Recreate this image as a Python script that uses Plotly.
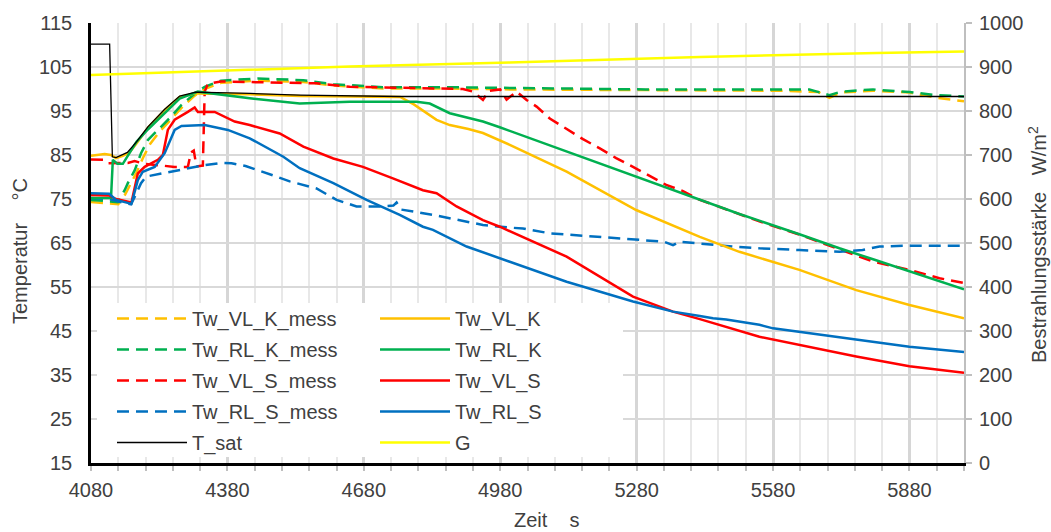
import plotly.graph_objects as go

# ---------------- data (time in s, temperature in °C, G in W/m²) ----------------
t_vl_k_mess = [4080, 4115, 4140, 4155, 4165, 4180, 4195, 4210, 4230, 4256, 4280, 4308, 4330, 4366, 4447, 4547, 4613, 4722, 4869, 5001, 5300, 5600, 5680, 5704, 5730, 5800, 5880, 5940, 6000]
v_vl_k_mess = [74.3, 74.0, 73.8, 76.0, 78.0, 81.0, 84.5, 87.5, 90.2, 93.0, 95.8, 98.5, 100.0, 101.4, 101.9, 101.6, 100.8, 100.1, 100.1, 99.9, 99.7, 99.6, 99.3, 98.0, 99.2, 99.6, 99.2, 98.0, 97.2]

t_rl_k_mess = [4080, 4139, 4154, 4161, 4176, 4190, 4205, 4227, 4256, 4279, 4308, 4330, 4366, 4447, 4547, 4613, 4722, 4869, 5001, 5300, 5660, 5704, 5730, 5800, 5880, 5940, 6000]
v_rl_k_mess = [74.8, 74.3, 77.0, 78.6, 81.5, 85.4, 88.4, 90.7, 93.7, 96.4, 98.9, 100.5, 101.9, 102.4, 102.0, 101.1, 100.4, 100.4, 100.2, 99.9, 99.9, 98.6, 99.4, 99.9, 99.3, 98.6, 98.3]

t_vl_s_mess = [4080, 4110, 4118, 4161, 4176, 4198, 4264, 4293, 4300, 4306, 4312, 4326, 4330, 4337, 4366, 4447, 4576, 4649, 4796, 4898, 4920, 4942, 4955, 4980, 4994, 5016, 5038, 5060, 5089, 5126, 5162, 5199, 5235, 5272, 5309, 5345, 5382, 5419, 5492, 5550, 5638, 5726, 5799, 5880, 5946, 6000]
v_vl_s_mess = [84.0, 83.9, 83.1, 83.2, 83.6, 83.0, 82.3, 82.3, 85.6, 86.0, 82.4, 82.6, 99.4, 101.2, 101.7, 101.6, 101.3, 100.5, 100.2, 100.0, 99.4, 97.5, 99.6, 99.9, 97.6, 99.4, 97.5, 96.0, 93.3, 91.0, 88.6, 86.5, 84.3, 82.3, 80.3, 78.2, 76.8, 74.8, 72.1, 69.9, 66.9, 63.6, 60.8, 58.9, 57.0, 55.9]

t_rl_s_mess = [4080, 4120, 4150, 4168, 4180, 4190, 4201, 4234, 4279, 4330, 4366, 4389, 4420, 4447, 4488, 4517, 4576, 4620, 4664, 4722, 4745, 4752, 4762, 4832, 4906, 4942, 5001, 5030, 5089, 5235, 5340, 5360, 5374, 5492, 5550, 5638, 5726, 5777, 5814, 5880, 6000]
v_rl_s_mess = [75.2, 75.0, 74.2, 73.8, 76.3, 78.6, 80.1, 80.8, 81.6, 82.7, 83.2, 83.1, 82.5, 81.6, 80.1, 79.0, 77.4, 74.8, 73.3, 73.3, 73.5, 74.2, 72.6, 71.4, 69.9, 69.1, 68.5, 68.3, 67.2, 66.1, 65.3, 64.5, 65.3, 64.2, 63.8, 63.4, 63.0, 63.4, 64.2, 64.4, 64.4]

t_sat_t = [4080, 4121, 4127, 4135, 4160, 4180, 4205, 4242, 4275, 4310, 4430, 4540, 4760, 6000]
t_sat_v = [110.2, 110.2, 84.6, 84.4, 85.6, 88.0, 91.4, 95.4, 98.4, 99.3, 99.0, 98.6, 98.3, 98.3]

t_vl_k = [4080, 4110, 4124, 4135, 4150, 4165, 4180, 4205, 4242, 4275, 4310, 4430, 4540, 4700, 4760, 4790, 4815, 4840, 4869, 4910, 4942, 4979, 5001, 5126, 5279, 5419, 5506, 5638, 5763, 5880, 6000]
v_vl_k = [84.8, 85.2, 85.0, 84.3, 84.8, 85.6, 87.6, 91.2, 95.2, 98.2, 99.0, 98.8, 98.4, 98.3, 98.2, 96.5, 94.8, 93.0, 91.8, 90.9, 90.0, 88.3, 87.3, 81.2, 72.5, 66.4, 63.0, 58.9, 54.3, 50.9, 47.9]

t_rl_k = [4080, 4124, 4128, 4138, 4150, 4160, 4180, 4205, 4242, 4275, 4315, 4350, 4429, 4539, 4649, 4796, 4825, 4869, 4942, 4979, 5126, 5279, 5419, 5506, 5638, 5726, 5800, 5880, 6000]
v_rl_k = [75.2, 75.2, 83.9, 83.0, 83.0, 84.6, 88.0, 90.8, 94.5, 97.8, 99.4, 98.9, 97.9, 96.7, 97.1, 97.1, 96.7, 94.5, 92.6, 91.3, 85.8, 80.1, 74.8, 71.6, 67.0, 63.8, 61.3, 58.6, 54.5]

t_vl_s = [4080, 4120, 4135, 4150, 4169, 4183, 4198, 4227, 4238, 4249, 4264, 4293, 4308, 4315, 4352, 4396, 4429, 4495, 4547, 4613, 4678, 4744, 4810, 4840, 4884, 4942, 4979, 5126, 5272, 5360, 5419, 5550, 5638, 5763, 5880, 6000]
v_vl_s = [75.9, 75.8, 75.0, 74.6, 74.2, 80.8, 82.3, 83.9, 85.0, 90.7, 93.0, 94.8, 95.8, 94.8, 94.8, 92.6, 91.8, 89.9, 86.9, 84.2, 82.3, 79.7, 77.0, 76.3, 73.3, 70.2, 68.7, 61.9, 52.8, 49.4, 47.7, 43.7, 41.8, 39.2, 37.0, 35.5]

t_rl_s = [4080, 4120, 4135, 4169, 4183, 4194, 4220, 4242, 4264, 4279, 4330, 4381, 4429, 4503, 4539, 4613, 4686, 4759, 4810, 4832, 4906, 4979, 5126, 5272, 5360, 5419, 5448, 5477, 5506, 5550, 5580, 5638, 5763, 5880, 6000]
v_rl_s = [76.3, 76.2, 74.8, 73.9, 79.3, 81.2, 82.3, 85.4, 90.7, 91.6, 91.8, 90.7, 88.8, 84.6, 82.0, 78.6, 74.8, 71.4, 68.7, 68.0, 64.2, 61.5, 56.2, 51.7, 49.4, 48.4, 47.9, 47.6, 47.1, 46.4, 45.6, 44.8, 43.0, 41.4, 40.2]

g_t = [4080, 4447, 4649, 5001, 5419, 5808, 6000]
g_v = [882, 895, 901, 910, 923, 932, 935]

x_ticks = [4080, 4380, 4680, 4980, 5280, 5580, 5880]

# ---------------- styling ----------------
FONT = "Liberation Sans, Arial, sans-serif"
TXT = "#404040"
ORANGE, GREEN, RED, BLUE, YELLOW = "#FFC000", "#00B050", "#FF0000", "#0070C0", "#FFFF00"
DASH = "12px,7px"
LW = 2.5

fig = go.Figure()

def add(t, v, name, color, dash=None, width=LW, legend="legend", yaxis="y"):
    fig.add_trace(go.Scatter(
        x=t, y=v, name=name, mode="lines", yaxis=yaxis, legend=legend,
        legendgroup=name,
        line=dict(color=color, width=width, dash=dash if dash else "solid"),
        hoverinfo="skip"))

# left legend column
add(t_vl_k_mess, v_vl_k_mess, "Tw_VL_K_mess", ORANGE, DASH)
add(t_rl_k_mess, v_rl_k_mess, "Tw_RL_K_mess", GREEN, DASH)
add(t_vl_s_mess, v_vl_s_mess, "Tw_VL_S_mess", RED, DASH)
add(t_rl_s_mess, v_rl_s_mess, "Tw_RL_S_mess", BLUE, DASH)
# right legend column (solid)
add(t_vl_k, v_vl_k, "Tw_VL_K", ORANGE, legend="legend2")
add(t_rl_k, v_rl_k, "Tw_RL_K", GREEN, legend="legend2")
add(t_vl_s, v_vl_s, "Tw_VL_S", RED, legend="legend2")
add(t_rl_s, v_rl_s, "Tw_RL_S", BLUE, legend="legend2")
add(t_sat_t, t_sat_v, "T_sat", "#000000", width=1.3)
add(g_t, g_v, "G", YELLOW, legend="legend2", yaxis="y2")

L = 91; R = 964; T = 23; B = 463
W = R - L; H = B - T

def px(xp):
    return (xp - L) / W

def py(yp):
    return (B - yp) / H

fig.update_layout(
    width=1051, height=532, autosize=False,
    margin=dict(l=L, r=1051 - R, t=T, b=532 - B, pad=0),
    paper_bgcolor="white", plot_bgcolor="white",
    font=dict(family=FONT, size=20, color=TXT),
    showlegend=True,
    xaxis=dict(
        range=[4080, 6000], tick0=4080, dtick=300, tickvals=x_ticks,
        showgrid=True, gridcolor="#D6D6D6", gridwidth=2.5,
        minor=dict(dtick=60, tick0=4080, showgrid=True, gridcolor="#E8E8E8", gridwidth=2,
                   ticks="outside", ticklen=5, tickcolor="#BFBFBF", tickwidth=1.5),
        ticks="outside", ticklen=5, tickcolor="#BFBFBF", tickwidth=1.5,
        showline=True, linecolor="#000000", linewidth=2.5,
        zeroline=False, ticklabelstandoff=2, automargin=False,
        tickfont=dict(family=FONT, size=20, color=TXT),
    ),
    yaxis=dict(
        range=[15, 115], tick0=15, dtick=10,
        showgrid=True, gridcolor="#D9D9D9", gridwidth=2,
        showline=True, linecolor="#000000", linewidth=2.5,
        ticks="", zeroline=False, ticklabelstandoff=12, automargin=False,
        tickfont=dict(family=FONT, size=20, color=TXT),
    ),
    yaxis2=dict(
        range=[0, 1000], tick0=0, dtick=100, overlaying="y", side="right",
        showgrid=False, showline=True, linecolor="#BFBFBF", linewidth=2,
        ticks="outside", ticklen=6, tickcolor="#BFBFBF", tickwidth=2,
        zeroline=False, ticklabelstandoff=3, automargin=False,
        tickfont=dict(family=FONT, size=20, color=TXT),
    ),
    legend=dict(
        x=px(112), y=py(299), xanchor="left", yanchor="top",
        bgcolor="rgba(0,0,0,0)", borderwidth=0, itemwidth=70,
        font=dict(family=FONT, size=20, color=TXT), traceorder="grouped",
        tracegroupgap=2,
    ),
    legend2=dict(
        x=px(375), y=py(299), xanchor="left", yanchor="top",
        bgcolor="rgba(0,0,0,0)", borderwidth=0, itemwidth=70,
        font=dict(family=FONT, size=20, color=TXT), traceorder="grouped",
        tracegroupgap=2,
    ),
    shapes=[dict(type="rect", xref="paper", yref="paper",
                 x0=px(97), x1=px(623), y0=py(457), y1=py(303),
                 fillcolor="white", line=dict(width=0), layer="above")],
    annotations=[
        dict(text="Zeit\u00a0\u00a0\u00a0\u00a0s", xref="paper", yref="paper",
             x=px(547), y=py(520), xanchor="center", yanchor="middle", showarrow=False,
             font=dict(family=FONT, size=20, color=TXT)),
        dict(text="Temperatur\u00a0\u00a0\u00a0\u00a0°C", xref="paper", yref="paper",
             x=px(20), y=py(251), xanchor="center", yanchor="middle", showarrow=False,
             textangle=-90, font=dict(family=FONT, size=20, color=TXT)),
        dict(text="Bestrahlungsstärke\u00a0\u00a0\u00a0W/m<sup>2</sup>", xref="paper", yref="paper",
             x=px(1037), y=py(245), xanchor="center", yanchor="middle", showarrow=False,
             textangle=-90, font=dict(family=FONT, size=20, color=TXT)),
    ],
)

fig.write_html("out.html", config={"displayModeBar": False},
               post_script="document.body.style.margin='0';document.body.style.padding='0';")
